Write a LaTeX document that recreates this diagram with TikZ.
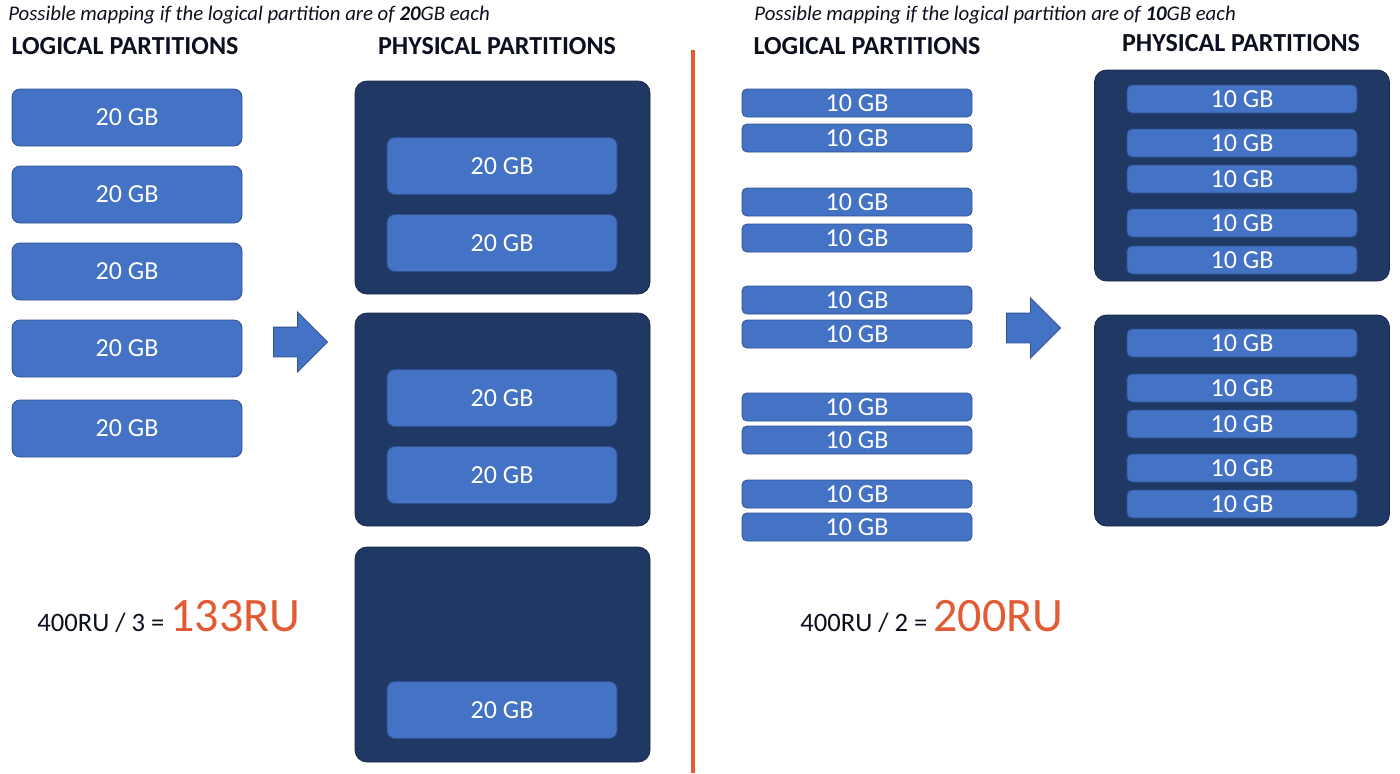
\documentclass[tikz,border=0pt]{standalone}
\usepackage{fontspec}
\setmainfont{Carlito}
\usetikzlibrary{shapes.arrows}
\definecolor{boxblue}{HTML}{4472C4}
\definecolor{boxedge}{HTML}{2F528F}
\definecolor{navy}{HTML}{203864}
\definecolor{ruorange}{HTML}{E35B35}
\definecolor{inkdark}{HTML}{0C0F1E}

\begin{document}
\begin{tikzpicture}[x=0.5pt,y=-0.5pt,
      gbbox/.style={draw=boxedge,fill=boxblue,rounded corners=4pt,
                    minimum width=115pt,minimum height=28.5pt,inner sep=0pt,
                    text=white,font=\fontsize{13}{15}\selectfont},
      smallbox/.style={gbbox,rounded corners=2.5pt,minimum height=14pt},
      physbox/.style={draw=navy!70!black,fill=navy,rounded corners=6pt,
                      minimum width=147.5pt,inner sep=0pt},
      heading/.style={font=\fontsize{13}{15}\selectfont\bfseries,text=inkdark,inner sep=0pt},
      note/.style={font=\fontsize{10.4}{12}\selectfont\itshape,text=inkdark,
                   anchor=west,inner sep=0pt},
      formula/.style={font=\fontsize{13.3}{15}\selectfont,text=inkdark,
                      anchor=base west,inner sep=0pt},
      bigarr/.style={single arrow,draw=boxedge,fill=boxblue,
                     inner xsep=0pt,inner ysep=7.25pt,minimum height=27pt,
                     single arrow head extend=7.5pt,single arrow tip angle=90}
    ]
      \useasboundingbox (0,0) rectangle (1400,773);
      % left half: 20GB partitions
      \node[note] (note20) at (8,15) {Possible mapping if the logical partition are of \textbf{20}GB each};
      \node[heading] (log20) at (125,46) {LOGICAL PARTITIONS};
      \node[heading] (phy20) at (497,46) {PHYSICAL PARTITIONS};
      \foreach \y [count=\i] in {117.5,194.5,271.5,348.5,428.5}
        \node[gbbox] (lp\i) at (127,\y) {20 GB};
      \node[bigarr] (arr20) at (293,342) {};
      \node[physbox,minimum height=106.5pt] (pp1) at (502.5,187.5) {};
      \node[physbox,minimum height=106.5pt] (pp2) at (502.5,419.5) {};
      \node[physbox,minimum height=107.5pt] (pp3) at (502.5,654.5) {};
      \foreach \y [count=\i] in {166,243,398,475,710}
        \node[gbbox] (pg\i) at (502,\y) {20 GB};
      \node[formula] (ru20) at (37,631) {400RU / 3 = {\color{ruorange}\fontsize{24}{27}\selectfont 133RU}};
      % divider
      \draw[ruorange,line width=2pt] (693,50) -- (693,773);
      % right half: 10GB partitions
      \node[note] (note10) at (754,15) {Possible mapping if the logical partition are of \textbf{10}GB each};
      \node[heading] (log10) at (867,46) {LOGICAL PARTITIONS};
      \node[heading] (phy10) at (1241,43) {PHYSICAL PARTITIONS};
      \foreach \y [count=\i] in {103,138,202,238,300,334,407,440,494,527}
        \node[smallbox] (rl\i) at (857,\y) {10 GB};
      \node[bigarr] (arr10) at (1026,328) {};
      \node[physbox,minimum height=105.5pt] (qp1) at (1242,175.5) {};
      \node[physbox,minimum height=105.5pt] (qp2) at (1242,420.5) {};
      \foreach \y [count=\i] in {99,143,179,223,260,343,388,424,468,504}
        \node[smallbox] (rq\i) at (1242,\y) {10 GB};
      \node[formula] (ru10) at (800,631) {400RU / 2 = {\color{ruorange}\fontsize{24}{27}\selectfont 200RU}};
    \end{tikzpicture}
\end{document}
